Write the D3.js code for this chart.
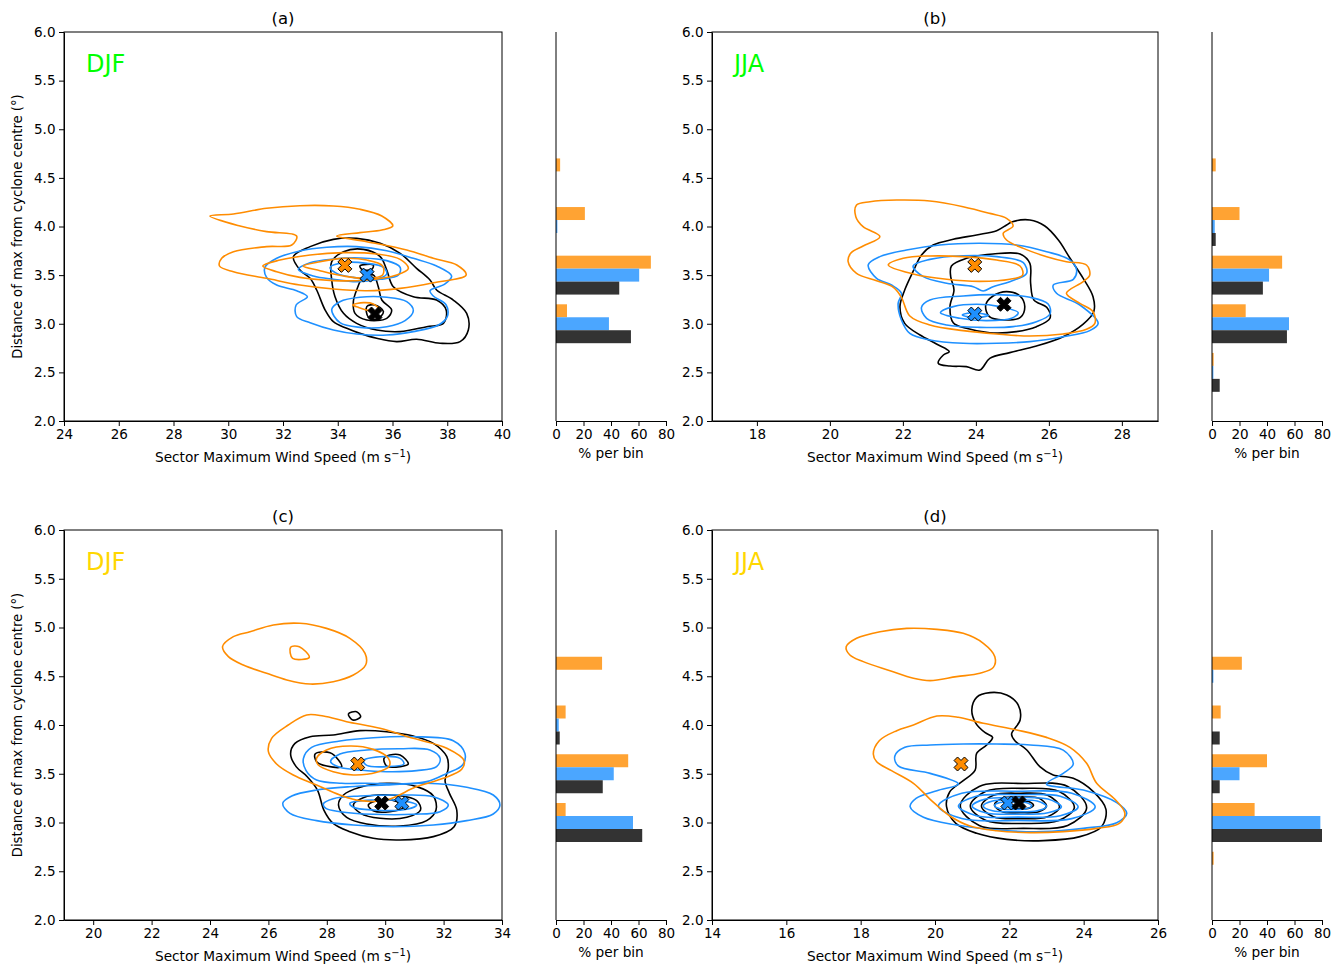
<!DOCTYPE html>
<html>
<head>
<meta charset="utf-8">
<title>Sector maximum wind speed vs distance from cyclone centre</title>
<style>
body{margin:0;background:#fff;}
svg{display:block;font-family:"DejaVu Sans",sans-serif;}
.domain,.tick line{stroke:#000;stroke-width:1px;}
</style>
</head>
<body>
<div id="chart"></div>
<script src="https://d3js.org/d3.v7.min.js"></script>
<script>

// panel text
var panelTitles  = ["(a)", "(b)", "(c)", "(d)"];
var seasonLabels = ["DJF", "JJA", "DJF", "JJA"];
var seasonColours = ["#00ff00", "#00ff00", "#ffd700", "#ffd700"];

// axes
var xDomains = [[24, 40], [16.77, 28.99], [19, 34], [14, 26]];
var xTickValues = [
    [24, 26, 28, 30, 32, 34, 36, 38, 40],
    [18, 20, 22, 24, 26, 28],
    [20, 22, 24, 26, 28, 30, 32, 34],
    [14, 16, 18, 20, 22, 24, 26]
];
var yTickValues = [2.0, 2.5, 3.0, 3.5, 4.0, 4.5, 5.0, 5.5, 6.0];
var histTicks = [0, 20, 40, 60, 80];

// histogram (% per bin), one row per panel
var binCentres  = [2.5, 3.0, 3.5, 4.0, 4.5];
var histOrange = [[0, 8, 69, 21, 3], [1.2, 24.5, 51, 20, 2.7], [0, 7, 52.5, 7, 33.5], [1.2, 31, 40, 6.3, 21.7]];
var histBlue   = [[0, 38.5, 60.5, 1, 0], [1, 56, 41.5, 2, 0], [0, 56, 42, 2, 0], [0, 78.8, 20, 0, 1]];
var histBlack  = [[0, 54.5, 46, 0, 0], [5.6, 54.5, 37, 2.7, 0], [0, 62.7, 34, 2.7, 0], [0, 80, 5.6, 5.6, 0]];

// mean positions (wind speed, distance)
var orangeCentres = [[34.26, 3.6], [23.97, 3.6], [29.06, 3.6], [20.70, 3.6]];
var blueCentres   = [[35.07, 3.5], [23.97, 3.1], [30.57, 3.2], [21.96, 3.2]];
var blackCentres  = [[35.36, 3.1], [24.77, 3.2], [29.88, 3.2], [22.26, 3.2]];

// density contours, [wind speed, distance]
var contoursBlackA = [
    [[32.38,3.690],[32.99,3.793],[33.84,3.868],[34.69,3.878],[35.55,3.827],[36.28,3.724],[36.88,3.570],[37.37,3.450],[37.61,3.347],[38.22,3.244],[38.71,3.107],[38.77,2.936],[38.47,2.816],[37.74,2.799],[36.88,2.840],[36.15,2.816],[35.42,2.850],[34.81,2.901],[34.33,2.953],[33.84,3.021],[33.54,3.141],[33.23,3.347],[32.99,3.467],[32.62,3.553]],
    [[33.78,3.638],[34.21,3.741],[34.94,3.765],[35.55,3.690],[35.79,3.553],[36.03,3.381],[36.76,3.278],[37.61,3.244],[37.96,3.141],[37.86,3.004],[37.25,2.970],[36.28,2.919],[35.42,2.936],[34.69,3.004],[34.21,3.107],[33.90,3.278],[33.78,3.450]],
    [[34.69,3.347],[34.94,3.484],[35.30,3.501],[35.48,3.381],[35.61,3.244],[35.97,3.141],[35.79,3.056],[35.06,3.039],[34.63,3.107],[34.57,3.227]],
    [[34.81,3.594],[35.30,3.604],[35.24,3.559],[34.88,3.559]],
    [[35.06,3.176],[35.36,3.193],[35.67,3.124],[35.42,3.045],[35.12,3.066]]
];
var contoursBlueA = [
    [[31.34,3.580],[31.77,3.673],[32.62,3.748],[33.60,3.786],[34.69,3.793],[35.79,3.751],[36.76,3.673],[37.61,3.594],[38.16,3.491],[37.92,3.409],[37.37,3.340],[37.49,3.285],[37.96,3.193],[38.00,3.073],[37.68,2.987],[36.76,2.919],[35.79,2.884],[34.69,2.895],[33.84,2.936],[32.99,3.011],[32.50,3.073],[32.48,3.193],[32.89,3.278],[32.50,3.340],[31.77,3.398],[31.40,3.477]],
    [[32.56,3.559],[32.99,3.628],[33.84,3.666],[34.81,3.676],[35.79,3.649],[36.28,3.580],[36.22,3.501],[35.55,3.457],[34.69,3.433],[33.84,3.457],[33.11,3.491]],
    [[33.72,3.580],[34.21,3.628],[35.06,3.621],[35.67,3.580],[35.79,3.511],[35.30,3.457],[34.57,3.477],[33.96,3.518]],
    [[33.78,3.148],[34.08,3.227],[34.81,3.272],[35.79,3.272],[36.52,3.227],[36.76,3.134],[36.46,3.032],[35.79,2.970],[34.81,2.963],[34.08,3.011]]
];
var contoursOrangeA = [
    [[29.33,4.108],[30.19,4.128],[31.40,4.187],[32.62,4.214],[33.84,4.211],[34.81,4.177],[35.61,4.108],[36.01,4.005],[35.61,3.964],[34.81,3.937],[33.96,3.902],[35.06,3.844],[36.52,3.758],[37.49,3.673],[38.35,3.604],[38.69,3.501],[37.49,3.422],[36.28,3.364],[35.06,3.340],[33.84,3.357],[32.62,3.398],[31.40,3.467],[30.19,3.535],[29.68,3.594],[29.76,3.673],[30.19,3.741],[31.40,3.793],[32.32,3.810],[32.50,3.902],[31.40,3.947],[30.43,4.005]],
    [[31.26,3.594],[31.89,3.655],[32.99,3.707],[34.21,3.731],[35.42,3.717],[36.28,3.662],[36.58,3.570],[36.15,3.501],[35.06,3.450],[33.84,3.443],[32.62,3.477],[31.77,3.535]],
    [[32.74,3.594],[33.35,3.638],[34.21,3.672],[35.06,3.655],[35.64,3.594],[35.64,3.501],[35.06,3.467],[34.21,3.491],[33.35,3.546]],
    [[34.55,3.193],[34.94,3.217],[35.30,3.203],[35.55,3.134],[35.18,3.134],[34.75,3.169]]
];

var contoursBlackB = [
    [[24.98,4.046],[25.48,4.067],[25.89,4.005],[26.26,3.861],[26.58,3.673],[26.94,3.467],[27.21,3.278],[27.23,3.124],[26.94,2.997],[26.39,2.867],[25.66,2.771],[24.93,2.703],[24.38,2.644],[24.11,2.524],[23.74,2.559],[23.29,2.565],[22.97,2.593],[23.11,2.679],[23.27,2.713],[22.92,2.792],[22.47,2.884],[22.05,3.004],[21.92,3.176],[22.05,3.347],[22.30,3.553],[22.51,3.707],[22.83,3.810],[23.38,3.868],[24.02,3.913],[24.57,3.957],[24.84,4.015]],
    [[23.33,3.594],[23.74,3.673],[24.47,3.717],[25.21,3.717],[25.48,3.621],[25.50,3.416],[25.59,3.244],[25.94,3.169],[26.03,3.056],[25.66,2.970],[25.11,2.919],[24.38,2.908],[23.74,2.953],[23.38,3.011],[23.29,3.176],[23.40,3.347],[23.31,3.484]],
    [[24.27,3.193],[24.47,3.285],[24.84,3.330],[25.21,3.285],[25.34,3.176],[25.22,3.066],[24.75,3.039],[24.37,3.073]]
];
var contoursBlueB = [
    [[21.05,3.604],[21.37,3.690],[22.10,3.758],[23.01,3.810],[24.11,3.827],[25.11,3.810],[25.94,3.741],[26.58,3.655],[26.76,3.553],[26.67,3.457],[26.12,3.398],[26.21,3.313],[26.85,3.193],[27.35,3.004],[27.12,2.929],[26.39,2.867],[25.48,2.816],[24.57,2.799],[23.65,2.799],[22.74,2.833],[22.19,2.901],[21.96,3.039],[21.87,3.210],[21.96,3.313],[21.69,3.398],[21.28,3.467]],
    [[22.28,3.594],[22.74,3.662],[23.65,3.700],[24.57,3.690],[25.30,3.628],[25.39,3.518],[24.93,3.433],[24.47,3.381],[24.20,3.337],[23.93,3.381],[23.20,3.416],[22.56,3.484]],
    [[22.51,3.169],[22.74,3.244],[23.65,3.285],[24.57,3.299],[25.48,3.272],[25.98,3.203],[26.03,3.100],[25.66,3.021],[25.02,2.970],[24.11,2.963],[23.20,2.987],[22.65,3.056]],
    [[23.03,3.114],[23.38,3.176],[24.02,3.200],[24.66,3.176],[25.16,3.114],[24.98,3.056],[24.29,3.032],[23.56,3.056]],
    [[23.63,3.090],[23.93,3.114],[24.34,3.086],[23.97,3.063]]
];
var contoursOrangeB = [
    [[20.73,4.221],[21.10,4.255],[21.83,4.272],[22.74,4.262],[23.65,4.204],[24.38,4.135],[24.84,4.084],[25.02,4.005],[24.75,3.930],[24.84,3.861],[25.30,3.775],[25.94,3.690],[26.48,3.638],[27.03,3.604],[27.12,3.501],[26.94,3.433],[26.48,3.313],[26.85,3.210],[27.21,3.124],[27.26,3.004],[27.03,2.943],[26.39,2.895],[25.48,2.874],[24.57,2.895],[23.65,2.929],[22.74,2.987],[22.19,3.080],[21.96,3.272],[21.74,3.374],[21.28,3.443],[20.73,3.518],[20.50,3.638],[20.57,3.724],[20.91,3.799],[21.37,3.895],[20.91,3.998],[20.71,4.101]],
    [[21.60,3.604],[22.01,3.673],[22.74,3.697],[23.65,3.690],[24.57,3.655],[25.21,3.594],[25.28,3.501],[24.93,3.457],[24.11,3.436],[23.20,3.457],[22.28,3.512]]
];

var contoursBlackC = [
    [[26.76,3.703],[26.91,3.812],[27.43,3.880],[28.22,3.897],[29.14,3.942],[30.05,3.931],[30.96,3.887],[31.65,3.812],[32.11,3.675],[32.16,3.556],[32.05,3.429],[32.20,3.299],[32.45,3.128],[32.36,2.957],[31.65,2.855],[30.51,2.821],[29.59,2.838],[28.79,2.906],[28.22,2.991],[27.90,3.128],[27.68,3.333],[27.33,3.470],[26.95,3.573]],
    [[27.60,3.703],[28.11,3.716],[28.40,3.641],[28.51,3.573],[28.00,3.579],[27.65,3.624]],
    [[29.96,3.658],[30.16,3.692],[30.51,3.692],[30.79,3.600],[30.51,3.573],[30.05,3.579]],
    [[28.74,4.113],[29.02,4.137],[29.16,4.085],[28.89,4.051]],
    [[28.40,3.180],[28.57,3.282],[29.14,3.361],[30.05,3.402],[31.08,3.368],[31.65,3.272],[31.74,3.128],[31.42,3.019],[30.51,2.964],[29.37,2.985],[28.68,3.053]],
    [[28.91,3.180],[29.25,3.255],[30.16,3.282],[31.08,3.224],[31.21,3.128],[30.74,3.053],[29.82,3.043],[29.16,3.094]],
    [[29.42,3.180],[29.82,3.231],[30.39,3.214],[30.62,3.156],[30.16,3.111],[29.59,3.121]]
];
var contoursBlueC = [
    [[27.20,3.658],[27.48,3.771],[28.45,3.836],[29.59,3.870],[30.96,3.880],[32.33,3.839],[32.73,3.709],[32.65,3.590],[32.11,3.504],[31.42,3.419],[30.51,3.395],[29.37,3.402],[28.51,3.402],[27.65,3.436],[27.29,3.532]],
    [[28.13,3.624],[28.45,3.703],[29.37,3.744],[30.51,3.757],[31.53,3.744],[31.88,3.658],[31.76,3.573],[31.08,3.532],[30.05,3.521],[29.14,3.538],[28.45,3.566]],
    [[29.25,3.634],[29.82,3.675],[30.51,3.658],[30.64,3.600],[30.05,3.573],[29.37,3.586]],
    [[26.49,3.197],[26.80,3.272],[27.65,3.333],[28.79,3.367],[30.05,3.384],[31.42,3.402],[32.79,3.361],[33.70,3.282],[33.93,3.179],[33.70,3.087],[32.79,3.019],[31.65,2.974],[30.28,2.957],[28.91,2.974],[27.65,3.019],[26.74,3.094]],
    [[27.88,3.190],[28.22,3.244],[29.14,3.272],[30.51,3.282],[31.65,3.265],[32.16,3.179],[31.88,3.111],[30.96,3.084],[29.59,3.084],[28.45,3.111],[27.97,3.145]],
    [[28.79,3.197],[29.59,3.231],[30.51,3.224],[31.08,3.179],[30.74,3.135],[29.59,3.128],[28.91,3.156]]
];
var contoursOrangeC = [
    [[24.43,4.803],[24.80,4.906],[25.37,4.957],[26.17,5.026],[27.08,5.043],[27.99,4.991],[28.79,4.889],[29.31,4.735],[29.33,4.615],[28.91,4.513],[28.22,4.444],[27.43,4.420],[26.63,4.462],[25.94,4.530],[25.14,4.615],[24.63,4.701]],
    [[26.76,4.797],[27.06,4.803],[27.40,4.694],[26.83,4.684]],
    [[26.00,3.726],[26.11,3.863],[26.68,4.000],[27.31,4.103],[27.88,4.092],[28.68,4.034],[29.82,3.966],[30.96,3.863],[32.11,3.761],[32.70,3.634],[32.62,3.545],[31.99,3.453],[31.08,3.368],[30.05,3.231],[29.14,3.224],[28.45,3.282],[27.65,3.385],[26.85,3.487],[26.28,3.600]],
    [[27.65,3.658],[27.99,3.744],[28.79,3.785],[29.59,3.750],[30.11,3.658],[30.14,3.579],[29.71,3.515],[28.91,3.487],[28.22,3.521],[27.71,3.590]]
];

var contoursBlackD = [
    [[20.99,4.154],[21.12,4.284],[21.48,4.332],[21.93,4.308],[22.24,4.205],[22.29,4.051],[22.06,3.908],[22.15,3.839],[22.47,3.744],[22.82,3.573],[23.18,3.487],[23.72,3.453],[24.26,3.316],[24.60,3.135],[24.48,2.957],[23.90,2.855],[22.92,2.814],[21.93,2.827],[21.12,2.889],[20.56,2.991],[20.31,3.162],[20.40,3.316],[20.76,3.429],[21.08,3.538],[21.12,3.709],[21.39,3.795],[21.55,3.874],[21.35,3.921],[21.10,4.017]],
    [[20.68,3.17],[21.19,3.37],[22.38,3.40],[23.57,3.37],[24.08,3.15],[23.57,2.97],[22.38,2.94],[21.19,2.97]],
    [[20.95,3.17],[21.37,3.32],[22.35,3.35],[23.33,3.32],[23.75,3.155],[23.33,3.02],[22.35,2.99],[21.37,3.02]],
    [[21.25,3.17],[21.57,3.28],[22.30,3.30],[23.03,3.28],[23.35,3.16],[23.03,3.06],[22.30,3.04],[21.57,3.06]],
    [[21.60,3.18],[21.81,3.25],[22.30,3.26],[22.79,3.25],[23.00,3.17],[22.79,3.11],[22.30,3.10],[21.81,3.11]],
    [[21.95,3.18],[22.05,3.21],[22.30,3.22],[22.55,3.21],[22.65,3.175],[22.55,3.15],[22.30,3.14],[22.05,3.15]]
];
var contoursBlueD = [
    [[18.92,3.682],[19.19,3.771],[19.87,3.795],[20.76,3.805],[21.66,3.805],[22.56,3.795],[23.45,3.743],[23.72,3.600],[23.45,3.504],[23.00,3.395],[23.99,3.333],[24.89,3.204],[25.16,3.094],[24.89,2.998],[23.99,2.940],[22.91,2.906],[21.66,2.923],[20.58,2.974],[19.69,3.053],[19.33,3.162],[19.49,3.248],[20.05,3.326],[20.63,3.395],[19.87,3.504],[19.01,3.580]],
    [[20.09,3.17],[20.72,3.30],[22.20,3.32],[23.68,3.30],[24.31,3.16],[23.68,3.04],[22.20,3.02],[20.72,3.04]],
    [[20.63,3.17],[21.11,3.27],[22.24,3.285],[23.37,3.27],[23.85,3.16],[23.37,3.07],[22.24,3.055],[21.11,3.07]],
    [[21.00,3.17],[21.36,3.24],[22.20,3.255],[23.04,3.24],[23.40,3.16],[23.04,3.10],[22.20,3.085],[21.36,3.10]],
    [[21.30,3.17],[21.55,3.22],[22.15,3.23],[22.75,3.22],[23.00,3.165],[22.75,3.12],[22.15,3.11],[21.55,3.12]],
    [[21.60,3.175],[21.75,3.205],[22.10,3.21],[22.45,3.205],[22.60,3.17],[22.45,3.14],[22.10,3.135],[21.75,3.14]]
];
var contoursOrangeD = [
    [[17.61,4.803],[17.89,4.889],[18.52,4.957],[19.24,4.991],[20.05,4.981],[20.76,4.940],[21.30,4.838],[21.61,4.701],[21.57,4.591],[21.21,4.530],[20.58,4.496],[19.87,4.455],[19.42,4.479],[18.79,4.557],[18.07,4.650],[17.71,4.718]],
    [[18.34,3.703],[18.50,3.839],[18.97,3.942],[19.42,4.000],[20.05,4.092],[20.63,4.079],[21.30,4.017],[22.20,3.949],[23.00,3.873],[23.63,3.771],[24.08,3.607],[24.35,3.402],[24.84,3.238],[25.11,3.094],[24.96,2.991],[24.35,2.940],[23.45,2.906],[22.56,2.896],[21.66,2.916],[20.94,2.964],[20.40,3.067],[19.87,3.238],[19.42,3.402],[18.83,3.532],[18.43,3.624]]
];

var contoursBlack  = [contoursBlackA, contoursBlackB, contoursBlackC, contoursBlackD];
var contoursBlue   = [contoursBlueA, contoursBlueB, contoursBlueC, contoursBlueD];
var contoursOrange = [contoursOrangeA, contoursOrangeB, contoursOrangeC, contoursOrangeD];

var lineColours = {orange: "#ff8c00", blue: "#1e90ff", black: "#000000"};
var barColours  = {orange: "#ffa333", blue: "#4ba6ff", black: "#333333"};

// pixel boxes of the four main axes and their histograms
var layout = [
    {left: 64,  right: 502,  hl: 556,  hr: 666,  top: 32,  bottom: 421},
    {left: 712, right: 1158, hl: 1212, hr: 1322, top: 32,  bottom: 421},
    {left: 64,  right: 502,  hl: 556,  hr: 666,  top: 530, bottom: 920},
    {left: 712, right: 1158, hl: 1212, hr: 1322, top: 530, bottom: 920}
];

var svg = d3.select("#chart").append("svg")
    .attr("width", 1340)
    .attr("height", 966);

// filled "X" marker, like matplotlib's 'X'
var xMarker = (function(){
    var r = 7.4, t = 2.5, c = Math.SQRT1_2;
    var pts = [[-t,-r],[t,-r],[t,-t],[r,-t],[r,t],[t,t],[t,r],[-t,r],[-t,t],[-r,t],[-r,-t],[-t,-t]];
    return "M" + pts.map(function(p){ return [(p[0]-p[1])*c, (p[0]+p[1])*c].join(","); }).join("L") + "Z";
})();

function styleAxis(sel){
    sel.attr("font-size", 13.5).attr("font-family", "DejaVu Sans, sans-serif");
    sel.selectAll(".tick text").attr("fill", "#000");
}

function drawPanel(i){
    var L = layout[i];
    var g = svg.append("g");

    var x = d3.scaleLinear().domain(xDomains[i]).range([L.left, L.right]);
    var y = d3.scaleLinear().domain([2, 6]).range([L.bottom, L.top]);
    var hx = d3.scaleLinear().domain([0, 80]).range([L.hl, L.hr]);

    var clipId = "clip" + i;
    g.append("clipPath").attr("id", clipId)
      .append("rect")
      .attr("x", L.left).attr("y", L.top)
      .attr("width", L.right - L.left).attr("height", L.bottom - L.top);

    var line = d3.line()
        .x(function(d){ return x(d[0]); })
        .y(function(d){ return y(d[1]); })
        .curve(d3.curveCatmullRomClosed.alpha(0.5));

    var plot = g.append("g").attr("clip-path", "url(#" + clipId + ")");

    [["black", contoursBlack[i]], ["blue", contoursBlue[i]], ["orange", contoursOrange[i]]].forEach(function(s){
        plot.append("g")
          .selectAll("path")
          .data(s[1])
          .enter()
          .append("path")
          .attr("d", line)
          .attr("fill", "none")
          .attr("stroke", lineColours[s[0]])
          .attr("stroke-width", 1.6)
          .attr("stroke-linejoin", "round");
    });

    //centre markers
    [["orange", orangeCentres[i]], ["blue", blueCentres[i]], ["black", blackCentres[i]]].forEach(function(s){
        plot.append("path")
          .attr("d", xMarker)
          .attr("transform", "translate(" + x(s[1][0]) + "," + y(s[1][1]) + ")")
          .attr("fill", lineColours[s[0]])
          .attr("stroke", "#000")
          .attr("stroke-width", 1);
    });

    //main axes
    g.append("g")
      .attr("transform", "translate(0," + L.bottom + ")")
      .call(d3.axisBottom(x).tickValues(xTickValues[i]).tickSize(5).tickPadding(3.5).tickSizeOuter(0))
      .call(styleAxis);
    g.append("g")
      .attr("transform", "translate(" + L.left + ",0)")
      .call(d3.axisLeft(y).tickValues(yTickValues).tickFormat(d3.format(".1f")).tickSize(5).tickPadding(3.5).tickSizeOuter(0))
      .call(styleAxis);
    g.append("rect")
      .attr("x", L.left).attr("y", L.top)
      .attr("width", L.right - L.left).attr("height", L.bottom - L.top)
      .attr("fill", "none").attr("stroke", "#000").attr("stroke-width", 1);

    //histogram bars: orange on top, blue, then black
    var barH = 0.4 / 3;
    [["orange", histOrange[i]], ["blue", histBlue[i]], ["black", histBlack[i]]].forEach(function(s, k){
        g.append("g")
          .selectAll("rect")
          .data(s[1])
          .enter()
          .append("rect")
          .attr("x", hx(0))
          .attr("width", function(d){ return hx(d) - hx(0); })
          .attr("y", function(d, j){ return y(binCentres[j] + 0.2 - k * barH); })
          .attr("height", function(d, j){ return y(binCentres[j] + 0.2 - (k + 1) * barH) - y(binCentres[j] + 0.2 - k * barH); })
          .attr("fill", barColours[s[0]]);
    });

    g.append("g")
      .attr("transform", "translate(0," + L.bottom + ")")
      .call(d3.axisBottom(hx).tickValues(histTicks).tickSize(5).tickPadding(3.5).tickSizeOuter(0))
      .call(styleAxis);
    g.append("line")
      .attr("x1", L.hl).attr("x2", L.hl)
      .attr("y1", L.top).attr("y2", L.bottom)
      .attr("stroke", "#000").attr("stroke-width", 1);

    //labels
    var cx = (L.left + L.right) / 2;
    g.append("text")
      .attr("x", cx).attr("y", L.top - 8)
      .attr("text-anchor", "middle")
      .style("font-size", "16.5px")
      .text(panelTitles[i]);

    g.append("text")
      .attr("x", L.left + 22).attr("y", L.top + 40)
      .style("font-size", "24px")
      .attr("fill", seasonColours[i])
      .text(seasonLabels[i]);

    var xl = g.append("text")
      .attr("x", cx).attr("y", L.bottom + 41)
      .attr("text-anchor", "middle")
      .style("font-size", "13.7px");
    xl.append("tspan").text("Sector Maximum Wind Speed (m s");
    xl.append("tspan").attr("dy", -5.5).style("font-size", "9.8px").text("\u22121");
    xl.append("tspan").attr("dy", 5.5).text(")");

    g.append("text")
      .attr("x", (L.hl + L.hr) / 2).attr("y", L.bottom + 37)
      .attr("text-anchor", "middle")
      .style("font-size", "13.7px")
      .text("% per bin");

    if (L.left < 100) {
        g.append("text")
          .attr("transform", "translate(22," + ((L.top + L.bottom) / 2) + ") rotate(-90)")
          .attr("text-anchor", "middle")
          .style("font-size", "13.2px")
          .text("Distance of max from cyclone centre (\u00b0)");
    }
}

for (var i = 0; i < 4; i++) drawPanel(i);

</script>
</body>
</html>
